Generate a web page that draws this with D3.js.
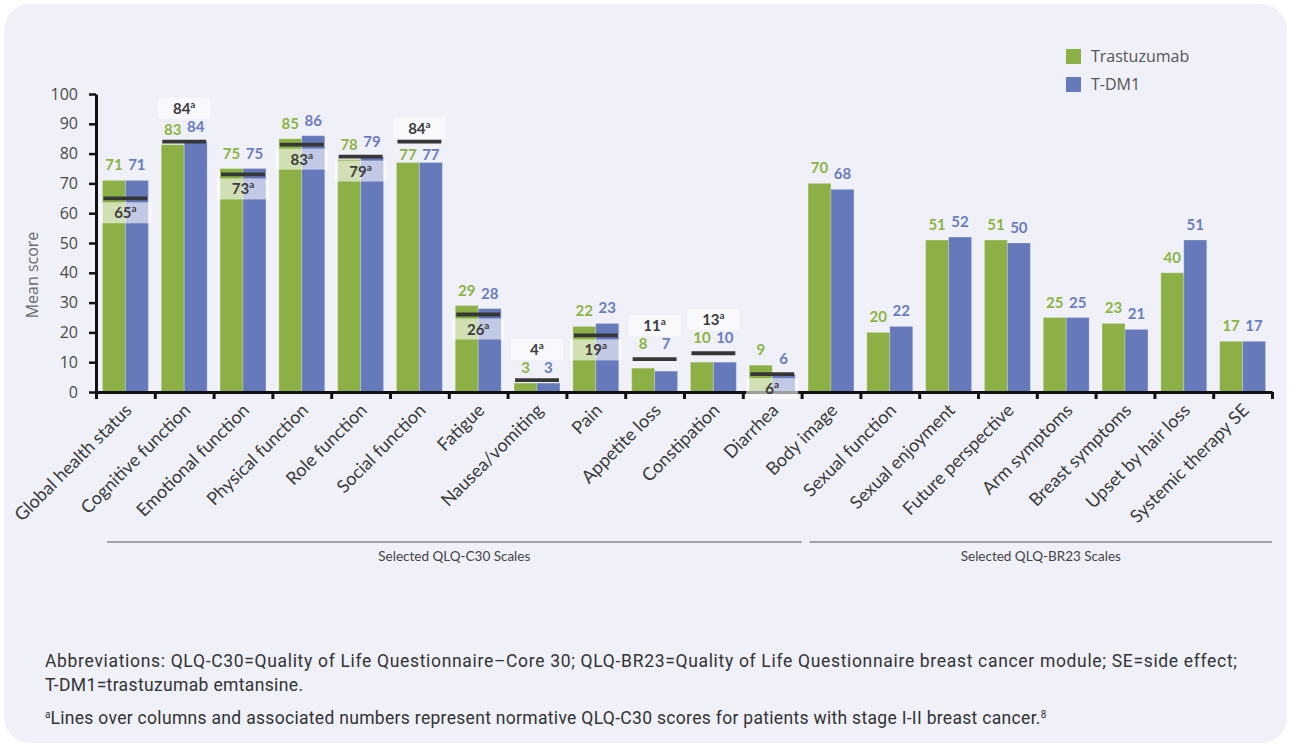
<!DOCTYPE html>
<html>
<head>
<meta charset="utf-8">
<script src="https://cdn.jsdelivr.net/npm/d3@7"></script>
<style>
  body { margin: 0; background: #ffffff; }
  svg { display: block; }
</style>
</head>
<body>
<svg id="chart" width="1290" height="746"></svg>
<script>
// ---- Data -------------------------------------------------------------
const categories = [
  "Global health status", "Cognitive function", "Emotional function",
  "Physical function", "Role function", "Social function", "Fatigue",
  "Nausea/vomiting", "Pain", "Appetite loss", "Constipation", "Diarrhea",
  "Body image", "Sexual function", "Sexual enjoyment", "Future perspective",
  "Arm symptoms", "Breast symptoms", "Upset by hair loss", "Systemic therapy SE"
];
const seriesNames = ["Trastuzumab", "T-DM1"];
const trastuzumab = [71, 83, 75, 85, 78, 77, 29, 3, 22, 8, 10, 9, 70, 20, 51, 51, 25, 23, 40, 17];
const tdm1        = [71, 84, 75, 86, 79, 77, 28, 3, 23, 7, 10, 6, 68, 22, 52, 50, 25, 21, 51, 17];
// Normative QLQ-C30 scores (stage I-II breast cancer); none for the BR23 scales
const normative   = [65, 84, 73, 83, 79, 84, 26, 4, 19, 11, 13, 6, null, null, null, null, null, null, null, null];
const yTickValues = [0, 10, 20, 30, 40, 50, 60, 70, 80, 90, 100];
const groupNames  = ["Selected QLQ-C30 Scales", "Selected QLQ-BR23 Scales"];
const groupSizes  = [12, 8];
const footnoteLines = [
  "Abbreviations: QLQ-C30=Quality of Life Questionnaire–Core 30; QLQ-BR23=Quality of Life Questionnaire breast cancer module; SE=side effect;",
  "T-DM1=trastuzumab emtansine."
];
const footnoteNorm = "Lines over columns and associated numbers represent normative QLQ-C30 scores for patients with stage I-II breast cancer.";

// Scales whose normative tag is printed above the line rather than below it
const tagAboveLine = new Set(["Cognitive function", "Social function", "Nausea/vomiting", "Appetite loss", "Constipation"]);

// ---- Styling ----------------------------------------------------------
const barColor   = { "Trastuzumab": "#8cb045", "T-DM1": "#6679bb" };
const labelColor = { "Trastuzumab": "#8db443", "T-DM1": "#6a7cc0" };
const seriesValues = { "Trastuzumab": trastuzumab, "T-DM1": tdm1 };

const svg = d3.select("#chart");

// card background
svg.append("rect")
  .attr("x", 4).attr("y", 4).attr("width", 1283).attr("height", 739)
  .attr("rx", 26).attr("fill", "#eff0f8");

// ---- Scales -----------------------------------------------------------
const x0 = d3.scaleBand().domain(categories).range([96, 1272])
  .paddingInner(0.22).paddingOuter(0.11);
const x1 = d3.scaleBand().domain(seriesNames).range([0, x0.bandwidth()]);
const y = d3.scaleLinear().domain([0, 100]).range([392, 94]);
const xEdge = d3.scaleLinear().domain([0, categories.length]).range(x0.range());

const rows = categories.map((c, i) => ({
  cat: c,
  norm: normative[i],
  bars: seriesNames.map(s => ({ series: s, value: seriesValues[s][i] }))
}));

// ---- Bars -------------------------------------------------------------
const gCat = svg.append("g").selectAll("g").data(rows).join("g")
  .attr("transform", d => `translate(${x0(d.cat)},0)`);

gCat.selectAll("rect").data(d => d.bars).join("rect")
  .attr("x", b => x1(b.series))
  .attr("y", b => y(b.value))
  .attr("width", x1.bandwidth())
  .attr("height", b => y(0) - y(b.value))
  .attr("fill", b => barColor[b.series])
  .attr("stroke", "rgba(255,255,255,0.22)")
  .attr("stroke-width", 1);

// ---- Value labels (kept clear of normative lines) ---------------------
function labelBaseline(value, norm) {
  const top = y(value);
  if (norm == null) return top - 10;
  const ly = y(norm);
  const hits = b => (b - 11) < ly + 2 && (b + 1) > ly - 2;
  let b = top - 10;
  if (!hits(b)) return b;
  b = top - 3;
  if (!hits(b)) return b;
  return ly - 10;
}
rows.forEach(r => r.bars.forEach(b => { b.base = labelBaseline(b.value, r.norm); }));

gCat.selectAll("text.val").data(d => d.bars).join("text")
  .attr("class", "val")
  .attr("x", b => x1(b.series) + x1.bandwidth() / 2)
  .attr("y", b => b.base)
  .attr("text-anchor", "middle")
  .attr("font-family", "Lato, 'Open Sans', sans-serif")
  .attr("font-weight", 700)
  .attr("font-size", 15)
  .attr("fill", b => labelColor[b.series])
  .text(b => b.value);

// ---- Axes -------------------------------------------------------------
const yAxis = svg.append("g").attr("transform", "translate(96,0)")
  .call(d3.axisLeft(y).tickValues(yTickValues).tickSize(7).tickSizeOuter(0).tickPadding(11));
yAxis.select(".domain").attr("stroke", "#111").attr("stroke-width", 3);
yAxis.selectAll(".tick line").attr("stroke", "#111").attr("stroke-width", 2.5);
yAxis.selectAll(".tick text")
  .attr("font-family", "'Open Sans', sans-serif").attr("font-size", 16).attr("fill", "#4a4a4a");

const xAxis = svg.append("g").attr("transform", `translate(0,${y(0)})`)
  .call(d3.axisBottom(xEdge).ticks(categories.length).tickFormat("").tickSize(7).tickSizeOuter(0));
xAxis.select(".domain").attr("stroke", "#111").attr("stroke-width", 3);
xAxis.selectAll(".tick line").attr("stroke", "#111").attr("stroke-width", 3);

const xLabels = svg.append("g").attr("transform", `translate(0,${y(0)})`)
  .call(d3.axisBottom(x0).tickSize(0).tickSizeOuter(0));
xLabels.select(".domain").remove();
xLabels.selectAll(".tick text")
  .attr("y", null).attr("dy", "0.35em")
  .attr("transform", "translate(3,15) rotate(-45)")
  .attr("text-anchor", "end")
  .attr("font-family", "Lato, 'Open Sans', sans-serif")
  .attr("font-size", 18)
  .attr("fill", "#3a3a3a");

// y-axis title
svg.append("text")
  .attr("transform", "translate(38,275) rotate(-90)")
  .attr("text-anchor", "middle")
  .attr("font-family", "'Open Sans', sans-serif")
  .attr("font-size", 16)
  .attr("fill", "#6a6a6a")
  .text("Mean score");

// ---- Normative lines and tags -----------------------------------------
const normRows = rows.filter(r => r.norm != null);
const gNorm = svg.append("g");

normRows.forEach(r => {
  const ly = y(r.norm);
  const cx = x0(r.cat) + x0.bandwidth() / 2;
  let top;
  if (tagAboveLine.has(r.cat)) {
    let bottom = ly - 2;
    r.bars.forEach(b => { if (b.base < ly) bottom = Math.min(bottom, b.base - 12); });
    top = bottom - 1 - 21;
  } else {
    top = ly + 4;
  }
  gNorm.append("rect")
    .attr("x", cx - 26).attr("y", top).attr("width", 52).attr("height", 21)
    .attr("fill", "#ffffff").attr("fill-opacity", 0.6);
  const t = gNorm.append("text")
    .attr("x", cx).attr("y", top + 16)
    .attr("text-anchor", "middle")
    .attr("font-family", "Lato, 'Open Sans', sans-serif")
    .attr("font-weight", 700)
    .attr("font-size", 15)
    .attr("fill", "#3d3d3d");
  t.append("tspan").text(r.norm);
  t.append("tspan").attr("font-size", 10).attr("dy", -6).text("a");
  gNorm.append("line")
    .attr("x1", x0(r.cat) + 1).attr("x2", x0(r.cat) + x0.bandwidth() - 1)
    .attr("y1", ly).attr("y2", ly)
    .attr("stroke", "#363636").attr("stroke-width", 3.8);
});

// ---- Group brackets ---------------------------------------------------
let start = 0;
groupNames.forEach((name, gi) => {
  const end = start + groupSizes[gi];
  const xa = xEdge(start) + (gi === 0 ? 11 : 8);
  const xb = xEdge(end);
  svg.append("line")
    .attr("x1", xa).attr("x2", xb).attr("y1", 542).attr("y2", 542)
    .attr("stroke", "#555").attr("stroke-width", 1);
  svg.append("text")
    .attr("x", (xa + xb) / 2).attr("y", 561)
    .attr("text-anchor", "middle")
    .attr("font-family", "Lato, 'Open Sans', sans-serif")
    .attr("font-size", 13.5)
    .attr("fill", "#444")
    .text(name);
  start = end;
});

// ---- Legend -----------------------------------------------------------
const legend = svg.append("g").attr("transform", "translate(1066,49)");
seriesNames.forEach((s, i) => {
  legend.append("rect").attr("x", 0).attr("y", i * 28).attr("width", 15).attr("height", 15)
    .attr("fill", barColor[s]);
  legend.append("text").attr("x", 25).attr("y", i * 28 + 12.5)
    .attr("font-family", "'Open Sans', sans-serif").attr("font-size", 16)
    .attr("fill", "#555").text(s);
});

// ---- Footnotes --------------------------------------------------------
const fn = svg.append("g")
  .attr("font-family", "Roboto, 'Open Sans', sans-serif")
  .attr("font-size", 17.5)
  .attr("fill", "#333");
fn.append("text").attr("x", 45).attr("y", 667)
  .attr("textLength", 1192).attr("lengthAdjust", "spacing")
  .text(footnoteLines[0]);
fn.append("text").attr("x", 45).attr("y", 691)
  .attr("textLength", 258).attr("lengthAdjust", "spacing")
  .text(footnoteLines[1]);
const f3 = fn.append("text").attr("x", 45).attr("y", 724);
f3.append("tspan").attr("font-size", 10).attr("dy", -6).text("a");
f3.append("tspan").attr("dy", 6)
  .attr("textLength", 990).attr("lengthAdjust", "spacing")
  .text(footnoteNorm);
f3.append("tspan").attr("font-size", 10).attr("dy", -6).text("8");
</script>
</body>
</html>
